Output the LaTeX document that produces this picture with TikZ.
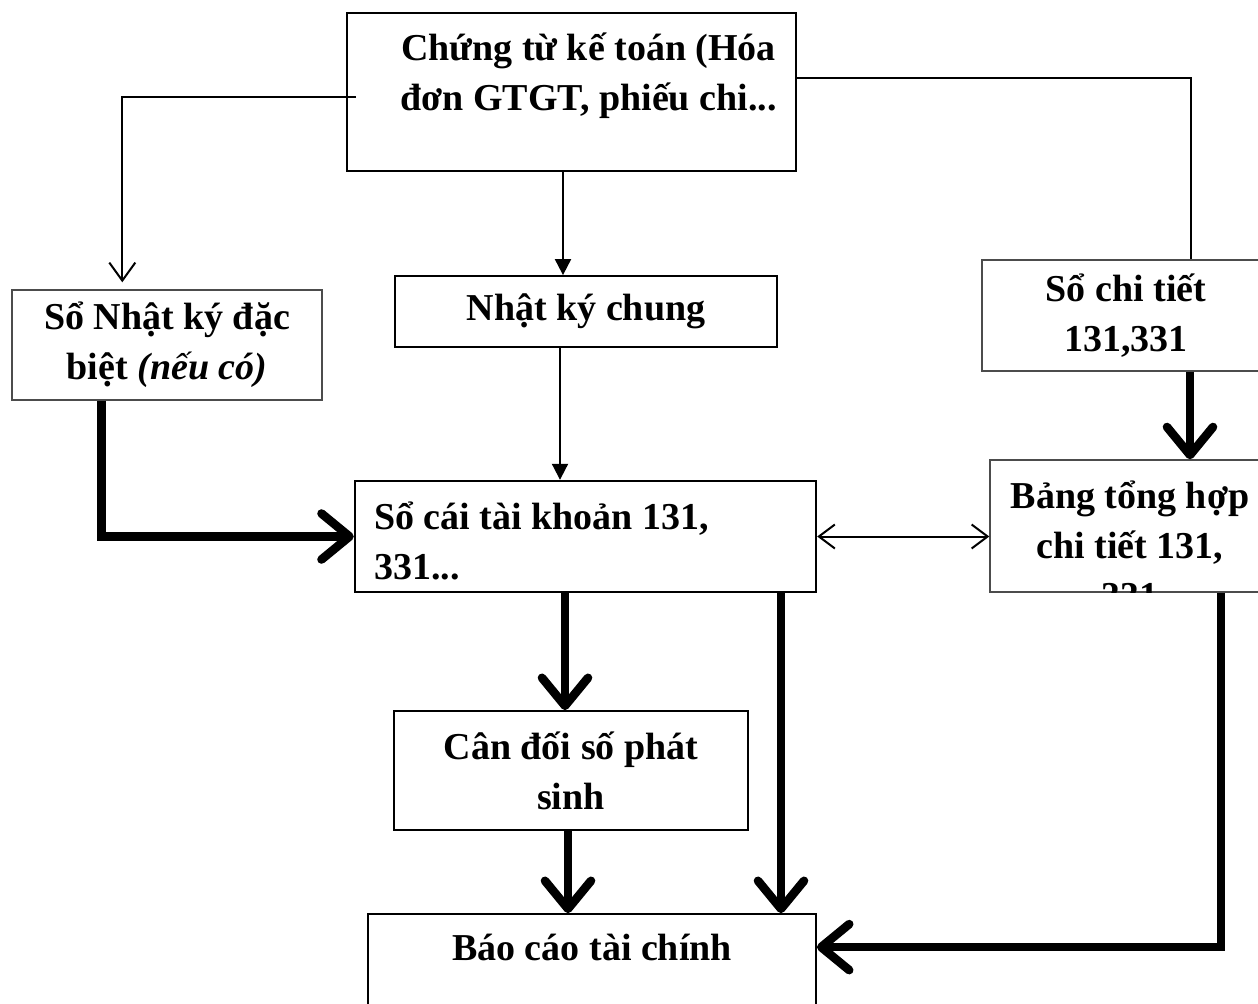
\documentclass[tikz,border=0pt]{standalone}
\usepackage{fontspec}
\setmainfont{Liberation Serif}
\usetikzlibrary{arrows.meta,calc}

\begin{document}
\begin{tikzpicture}[x=0.5pt,y=-0.5pt,
  box/.style={draw, rectangle, inner sep=0pt, line width=1pt},
  softbox/.style={box, draw=black!70, line width=0.7pt},
  lbl/.style={font=\fontsize{19}{25}\selectfont\bfseries, align=center, inner sep=0pt},
  flowline/.style={line width=1pt},
  heavyline/.style={line width=4.3pt},
  thinbarb/.style={-{Straight Barb[length=9pt,width=13pt]}},
  thintri/.style={-{Triangle[length=8pt,width=8pt]}},
  heavybarb/.style={-{Straight Barb[round,length=14pt,width=23pt]}}
]
% canvas
\fill[white] (0,0) rectangle (1258,1003);
\useasboundingbox (0,0) rectangle (1258,1003);

% boxes
\node[box, minimum width=224.5pt, minimum height=79pt] (ct) at (571.5,92) {};
\node[lbl] at ($(ct.center)+(17,-16)$) {Chứng từ kế toán (Hóa\\đơn GTGT, phiếu chi...};

\node[softbox, minimum width=155pt, minimum height=55pt, lbl] (nkdb) at (167,345)
  {Sổ Nhật ký đặc\\biệt \textit{(nếu có)}};

\node[box, line width=0.9pt, minimum width=191pt, minimum height=35.5pt, lbl] (nkc) at (586,311.5)
  {Nhật ký chung};

\node[softbox, minimum width=144pt, minimum height=55.5pt, lbl] (sct) at (1126,315.5)
  {Sổ chi tiết\\131,331};

\node[softbox, minimum width=140pt, minimum height=66pt] (bth) at (1130,526) {};
\begin{scope}
  \clip (bth.north west) rectangle (bth.south east);
  \node[lbl] at ($(bth.center)+(0,19)$) {Bảng tổng hợp\\chi tiết 131,\\331};
\end{scope}

\node[box, line width=1.2pt, minimum width=230.5pt, minimum height=55.5pt] (sc) at (585.5,536.5) {};
\node[lbl, align=left, anchor=west] at ($(sc.west)+(20,4)$) {Sổ cái tài khoản 131,\\331...};

\node[box, line width=0.9pt, minimum width=177pt, minimum height=59.5pt, lbl] (cd) at (571,770.5)
  {Cân đối số phát\\sinh};

\node[box, line width=0.9pt, minimum width=224pt, minimum height=53pt] (bc) at (592,967) {};
\node[lbl] at ($(bc.north)+(0,34)$) {Báo cáo tài chính};

% thin connectors
\draw[flowline, thinbarb] ($(ct.west)+(10,5)$) -| ($(nkdb.north west)+(111,-7)$);
\draw[flowline] ($(ct.east)+(0,-14)$) -| ($(sct.north west)+(210,0)$);
\draw[flowline, thintri] ($(ct.south)+(-8.5,0)$) -- ($(nkc.north)+(-23,0)$);
\draw[flowline, thintri] ($(nkc.south)+(-26,0)$) -- ($(sc.north)+(-25.5,0)$);
\draw[flowline, {Straight Barb[length=8pt,width=12pt]}-{Straight Barb[length=8pt,width=12pt]}]
  (sc.east) -- (sc.east -| bth.west);

% heavy connectors
\draw[heavyline, heavybarb] ($(sct.south)+(64,0)$) -- ($(bth.north)+(60,0)$);
\draw[heavyline, heavybarb] ($(nkdb.south west)+(90,0)$) |- (sc.west);
\draw[heavyline, heavybarb] ($(sc.south)+(-20.5,0)$) -- ($(cd.north)+(-6,0)$);
\draw[heavyline, heavybarb] ($(sc.south)+(195.5,0)$) -- ($(bc.north)+(189,0)$);
\draw[heavyline, heavybarb] ($(cd.south)+(-3,0)$) -- ($(bc.north)+(-24,0)$);
\draw[heavyline, heavybarb] ($(bth.south)+(91,0)$) |- ($(bc.north east)+(0,34)$);
\end{tikzpicture}
\end{document}
